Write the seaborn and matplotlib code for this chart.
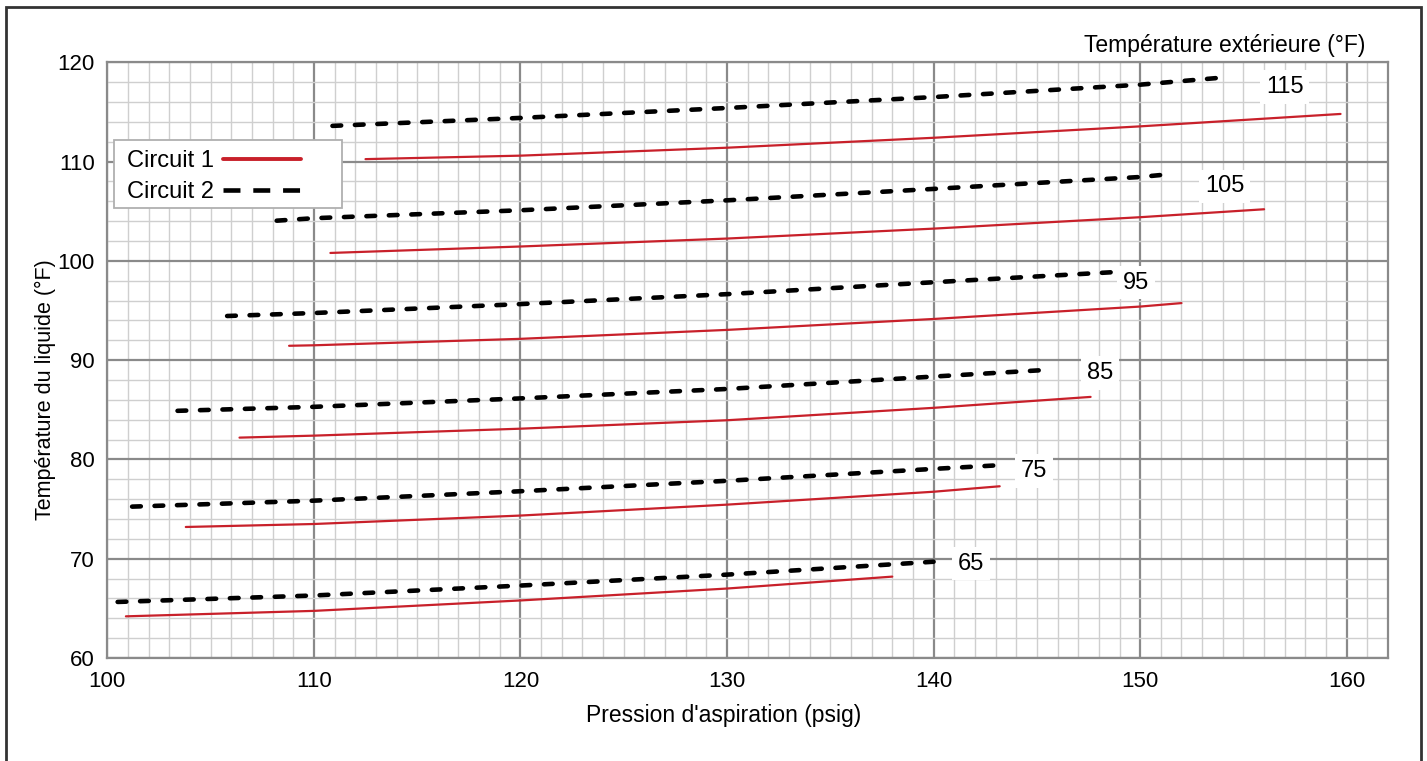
import matplotlib
matplotlib.use('Agg')
import matplotlib.pyplot as plt
from matplotlib.patches import Rectangle
from matplotlib.ticker import MultipleLocator
import pandas as pd
import seaborn as sns

# Outdoor temperature curves (°F), labels shown at end of each pair
temps = [65, 75, 85, 95, 105, 115]

# Circuit 1 (red solid) - suction pressure / liquid temperature
c1_x = {
    65: [100.9, 110, 120, 130, 138.0],
    75: [103.8, 110, 120, 130, 140, 143.2],
    85: [106.4, 110, 120, 130, 140, 147.6],
    95: [108.8, 110, 120, 130, 140, 150, 152.0],
    105: [110.8, 120, 130, 140, 150, 156.0],
    115: [112.5, 120, 130, 140, 150, 159.7],
}
c1_y = {
    65: [64.2, 64.75, 65.8, 67.0, 68.2],
    75: [73.2, 73.5, 74.35, 75.45, 76.75, 77.3],
    85: [82.2, 82.4, 83.1, 83.95, 85.2, 86.3],
    95: [91.45, 91.5, 92.15, 93.05, 94.15, 95.4, 95.75],
    105: [100.8, 101.45, 102.25, 103.25, 104.4, 105.2],
    115: [110.25, 110.6, 111.4, 112.4, 113.55, 114.8],
}

# Circuit 2 (black dashed)
c2_x = {
    65: [100.5, 110, 120, 130, 140.0],
    75: [101.2, 110, 120, 130, 140, 143.0],
    85: [103.4, 110, 120, 130, 140, 145.3],
    95: [105.8, 110, 120, 130, 140, 149.0],
    105: [108.2, 110, 120, 130, 140, 150, 151.0],
    115: [110.9, 120, 130, 140, 150, 153.9],
}
c2_y = {
    65: [65.65, 66.3, 67.3, 68.4, 69.7],
    75: [75.25, 75.85, 76.8, 77.85, 79.05, 79.4],
    85: [84.9, 85.3, 86.15, 87.1, 88.35, 89.0],
    95: [94.45, 94.75, 95.65, 96.65, 97.85, 98.9],
    105: [104.05, 104.3, 105.1, 106.1, 107.25, 108.45, 108.65],
    115: [113.6, 114.4, 115.4, 116.5, 117.75, 118.45],
}

# label positions for the outdoor temperature numbers
label_x = [141.8, 144.85, 148.05, 149.8, 154.1, 157.0]
label_y = [69.5, 78.85, 88.7, 97.8, 107.5, 117.5]

rows = []
for t in temps:
    for x, y in zip(c1_x[t], c1_y[t]):
        rows.append({'x': x, 'y': y, 'circuit': 'Circuit 1', 'temp': t})
    for x, y in zip(c2_x[t], c2_y[t]):
        rows.append({'x': x, 'y': y, 'circuit': 'Circuit 2', 'temp': t})
df = pd.DataFrame(rows)

sns.set_style('white')
plt.rcParams['font.family'] = ['Liberation Sans', 'DejaVu Sans']
plt.rcParams['text.color'] = 'black'
plt.rcParams['axes.labelcolor'] = 'black'
plt.rcParams['xtick.color'] = 'black'
plt.rcParams['ytick.color'] = 'black'

fig = plt.figure(figsize=(14.27, 7.61), dpi=100)
ax = fig.add_axes([0.0752, 0.1353, 0.8975, 0.7828])

# grid first so lines sit on top
ax.set_xlim(100, 162)
ax.set_ylim(60, 120)
ax.xaxis.set_major_locator(MultipleLocator(10))
ax.xaxis.set_minor_locator(MultipleLocator(1))
ax.yaxis.set_major_locator(MultipleLocator(10))
ax.yaxis.set_minor_locator(MultipleLocator(2))
ax.grid(which='minor', color='#cfcfcf', linewidth=1.0)
ax.grid(which='major', color='#8a8a8a', linewidth=1.6)
ax.set_axisbelow(True)

sns.lineplot(
    data=df, x='x', y='y',
    hue='circuit', style='circuit', units='temp', estimator=None,
    palette={'Circuit 1': '#c8202a', 'Circuit 2': 'black'},
    dashes={'Circuit 1': '', 'Circuit 2': (1.9, 3.0)},
    sort=False, ax=ax, legend=True,
)
for line in ax.get_lines():
    if line.get_color() == 'black':
        line.set_linewidth(3.3)
        line.set_dash_capstyle('round')
    else:
        line.set_linewidth(1.6)

for t, lx, ly in zip(temps, label_x, label_y):
    ax.text(lx, ly, str(t), fontsize=17, ha='center', va='center',
            bbox=dict(facecolor='white', edgecolor='none', pad=4))

ax.text(0.982, 1.029, 'Température extérieure (°F)', transform=ax.transAxes,
        ha='right', va='center', fontsize=16.5)

ax.set_xlabel("Pression d'aspiration (psig)", fontsize=16.5)
ax.set_ylabel('Température du liquide (°F)', fontsize=15.5)
ax.xaxis.set_label_coords(0.481, -0.077)
ax.yaxis.set_label_coords(-0.040, 0.45)
ax.tick_params(axis='both', which='both', length=0, labelsize=16, pad=9)
ax.set_xticks([100, 110, 120, 130, 140, 150, 160])
ax.set_yticks([60, 70, 80, 90, 100, 110, 120])

for s in ax.spines.values():
    s.set_color('#8a8a8a')
    s.set_linewidth(1.6)

# legend box drawn separately (wider than the entries)
ax.add_patch(Rectangle((0.0052, 0.755), 0.178, 0.114, transform=ax.transAxes,
                       facecolor='white', edgecolor='#b0b0b0', linewidth=1.3,
                       zorder=4, clip_on=False))

# legend: label first, handle after
handles, labels = ax.get_legend_handles_labels()
leg = ax.legend(handles, labels, loc='upper left', bbox_to_anchor=(0.0083, 0.869),
                borderaxespad=0, markerfirst=False, fontsize=17, handlelength=3.3,
                frameon=False, borderpad=0.4, labelspacing=0.4, handletextpad=0.35)
leg.set_zorder(5)
for h in leg.get_lines():
    if h.get_color() == 'black':
        h.set_linewidth(3.3)
        h.set_dashes((3.7, 2.8))
        h.set_dash_capstyle('butt')
    else:
        h.set_linewidth(2.8)

# outer frame around the figure
fig.patches.append(Rectangle((0.0045, -0.02), 0.991, 1.011, transform=fig.transFigure,
                             fill=False, edgecolor='#333333', linewidth=2.0))

fig.savefig('out.png', dpi=100)
